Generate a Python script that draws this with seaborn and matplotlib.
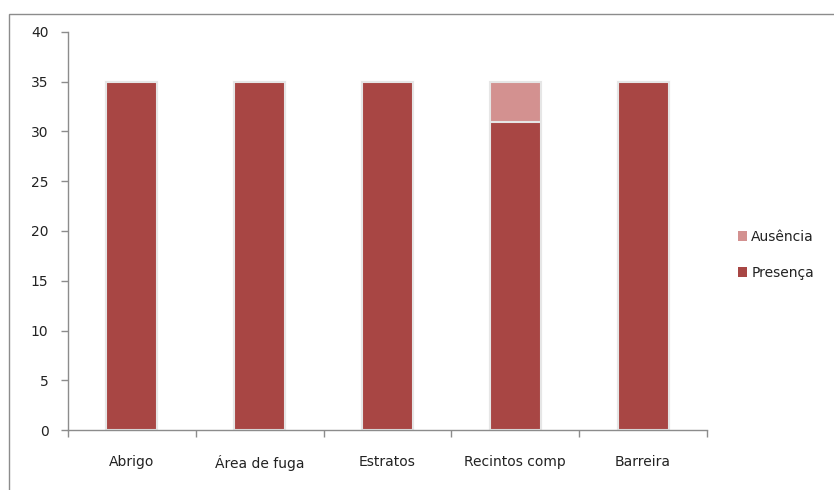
import matplotlib
matplotlib.use("Agg")
import matplotlib.pyplot as plt
import seaborn as sns
import pandas as pd
from matplotlib.patches import Rectangle, Patch

categories = ["Abrigo", "Área de fuga", "Estratos", "Recintos comp", "Barreira"]
presenca = [35, 35, 35, 31, 35]
ausencia = [0, 0, 0, 4, 0]
yticks = [0, 5, 10, 15, 20, 25, 30, 35, 40]

c_pres = "#A84644"
c_aus = "#D39190"

sns.set_theme(style="white")
plt.rcParams["font.family"] = ["DejaVu Sans"]

df = pd.DataFrame({"cat": categories, "pres": presenca,
                   "total": [p + a for p, a in zip(presenca, ausencia)]})

fig = plt.figure(figsize=(8.34, 4.9), dpi=100)
ax = fig.add_axes([68/834, 1 - 430/490, (707-68)/834, (430-32)/490])

sns.barplot(data=df, x="cat", y="total", color=c_aus, ax=ax, width=0.4,
            edgecolor="#e6e6e6", linewidth=1.5, saturation=1)
sns.barplot(data=df, x="cat", y="pres", color=c_pres, ax=ax, width=0.4,
            edgecolor="#e6e6e6", linewidth=1.5, saturation=1)

ax.set_xlim(-0.5, len(categories) - 0.5)
ax.set_ylim(0, 40)
ax.set_yticks(yticks)
ax.set_xlabel("")
ax.set_ylabel("")
for s in ["top", "right"]:
    ax.spines[s].set_visible(False)
for s in ["left", "bottom"]:
    ax.spines[s].set_color("#8c8c8c")
    ax.spines[s].set_linewidth(1.0)

ax.tick_params(axis="y", which="major", left=True, length=5, width=1,
               color="#8c8c8c", pad=9, labelsize=10, labelcolor="#222222")
ax.tick_params(axis="x", which="major", length=0, pad=18, labelsize=10,
               labelcolor="#222222")
ax.set_xticks([i - 0.5 for i in range(len(categories) + 1)], minor=True)
ax.tick_params(axis="x", which="minor", bottom=True, length=5, width=1,
               color="#8c8c8c")

handles = [Patch(facecolor=c_aus, edgecolor="none", label="Ausência"),
           Patch(facecolor=c_pres, edgecolor="none", label="Presença")]
fig.legend(handles=handles, loc="center left", bbox_to_anchor=(725/834, 1 - 255/490),
           frameon=False, handlelength=0.7, handleheight=0.7, handletextpad=0.3,
           labelspacing=1.6, fontsize=10, labelcolor="#222222")

fig.patches.append(Rectangle((9/834, -0.05), 1.0, 1 - 14/490 + 0.05,
                             transform=fig.transFigure, fill=False,
                             edgecolor="#8c8c8c", linewidth=1.0))

fig.savefig("out.png", dpi=100, facecolor="white")
